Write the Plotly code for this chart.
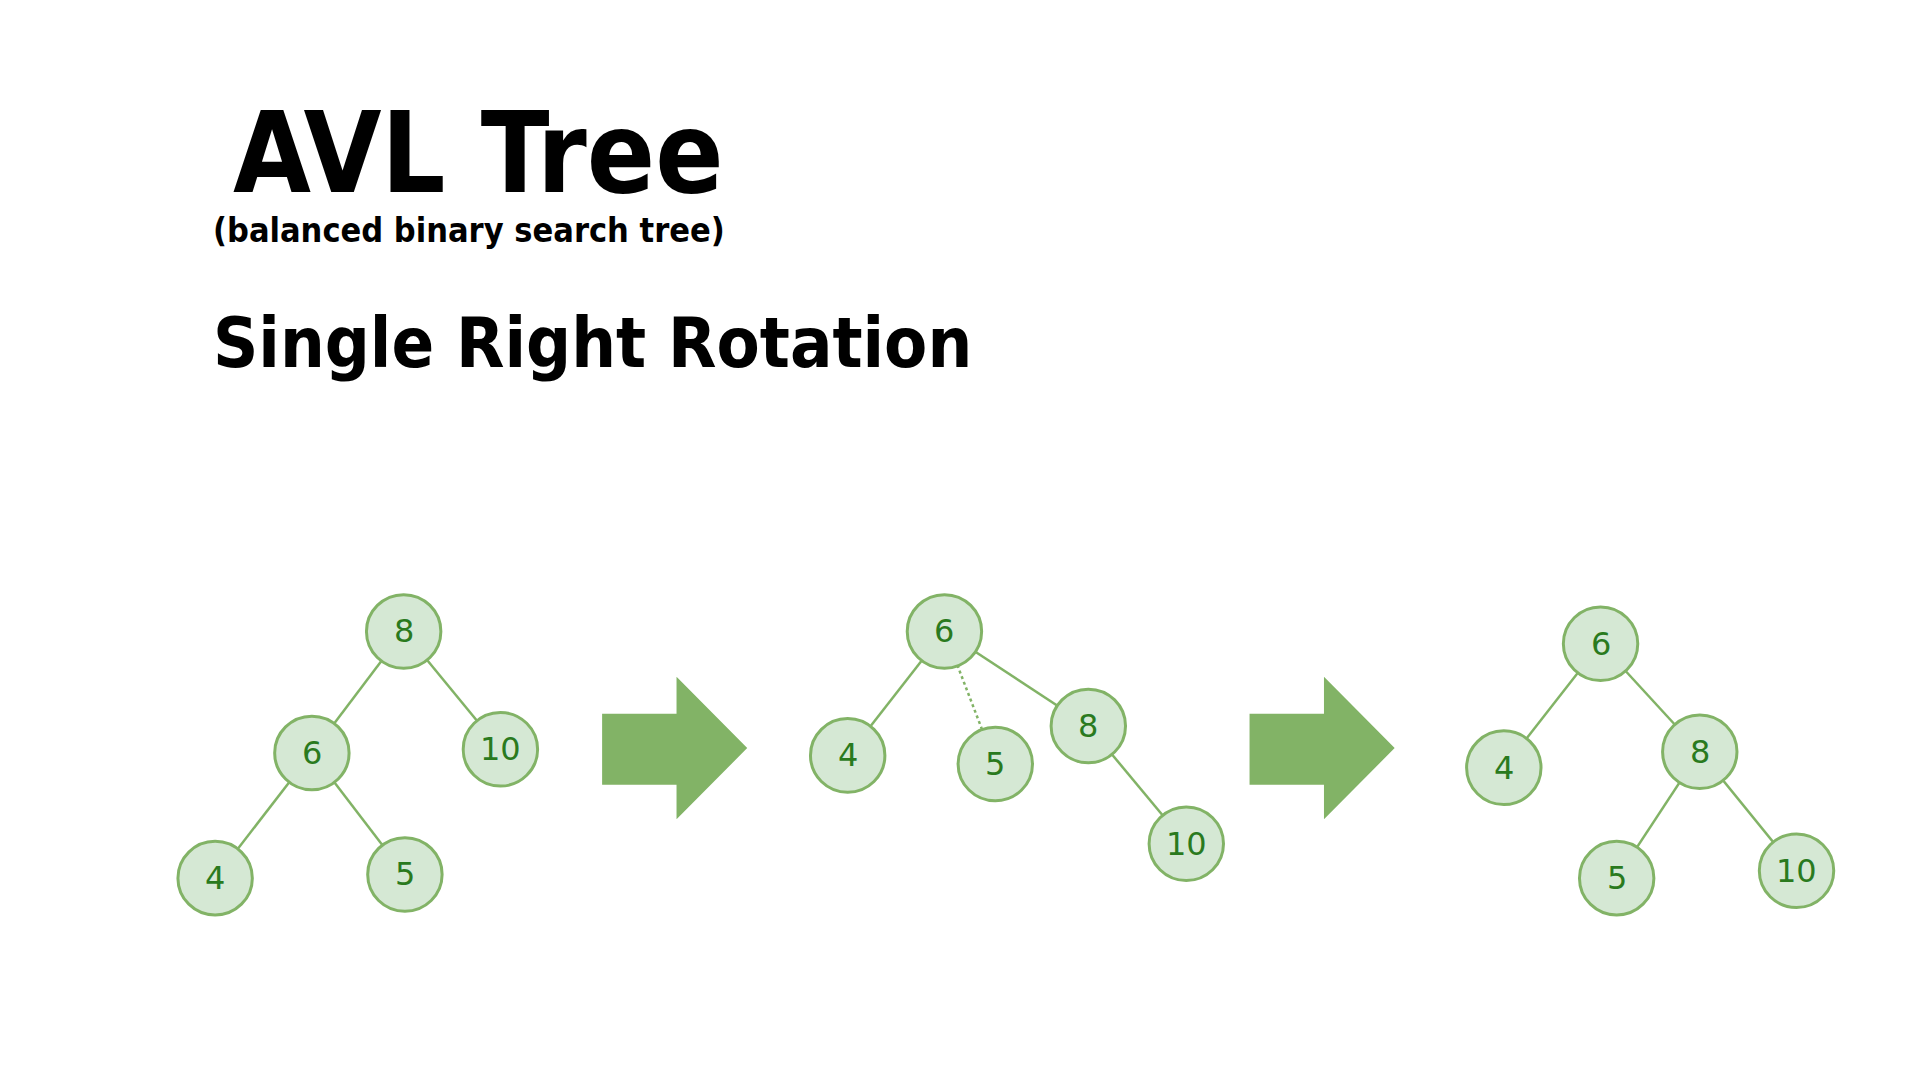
import plotly.graph_objects as go

# node labels and positions (picture coords, y down)
labels = ["8", "6", "10", "4", "5",
          "6", "4", "5", "8", "10",
          "6", "4", "8", "5", "10"]
node_x = [325, 251, 403, 173, 326,
          761, 683, 802, 877, 956,
          1290, 1212, 1370, 1303, 1448]
node_y = [515, 614, 611, 716, 713,
          515, 616, 623, 592, 688,
          525, 626, 613, 716, 710]
# edges as index pairs, solid and dotted
edges = [(0, 1), (0, 2), (1, 3), (1, 4),
         (5, 6), (5, 8), (8, 9),
         (10, 11), (10, 12), (12, 13), (12, 14)]
dotted_edges = [(5, 7)]
arrow_x0 = [485, 1007]
R = 30
EDGE = "#82b366"
FILL = "#d5e8d4"
TXT = "#2a7a1e"

fig = go.Figure()

def edge_trace(pairs, dash):
    xs, ys = [], []
    for a, b in pairs:
        xs += [node_x[a], node_x[b], None]
        ys += [node_y[a], node_y[b], None]
    return go.Scatter(x=xs, y=ys, mode="lines", line=dict(color=EDGE, width=2.5, dash=dash),
                      hoverinfo="skip", showlegend=False)

fig.add_trace(edge_trace(edges, "solid"))
fig.add_trace(edge_trace(dotted_edges, "dot"))

shapes = []
for x, y in zip(node_x, node_y):
    shapes.append(dict(type="circle", xref="x", yref="y", x0=x - R, x1=x + R, y0=y - R, y1=y + R,
                       fillcolor=FILL, line=dict(color=EDGE, width=3), layer="above"))
for ax in arrow_x0:
    path = (f"M {ax},582 L {ax+60},582 L {ax+60},552 L {ax+117},610 "
            f"L {ax+60},668 L {ax+60},640 L {ax},640 Z")
    shapes.append(dict(type="path", xref="x", yref="y", path=path,
                       fillcolor=EDGE, line=dict(width=0)))

annotations = [
    dict(x=x, y=y, xref="x", yref="y", text=t, showarrow=False,
         font=dict(size=32, color=TXT, family="DejaVu Sans"))
    for x, y, t in zip(node_x, node_y, labels)
]
annotations += [
    dict(x=186, y=125, xref="x", yref="y", text="<b>AVL Tree</b>", showarrow=False,
         xanchor="left", yanchor="middle", font=dict(size=112, color="black", family="DejaVu Sans Condensed")),
    dict(x=170, y=188, xref="x", yref="y", text="<b>(balanced binary search tree)</b>", showarrow=False,
         xanchor="left", yanchor="middle", font=dict(size=34, color="black", family="DejaVu Sans Condensed")),
    dict(x=170, y=280, xref="x", yref="y", text="<b>Single Right Rotation</b>", showarrow=False,
         xanchor="left", yanchor="middle", font=dict(size=70, color="black", family="DejaVu Sans Condensed")),
]

fig.update_layout(
    width=1920, height=1080, margin=dict(l=0, r=0, t=0, b=0),
    plot_bgcolor="white", paper_bgcolor="white", shapes=shapes, annotations=annotations,
    xaxis=dict(range=[6, 1554], visible=False),
    yaxis=dict(range=[887, 7], visible=False),
)
fig.write_html("out.html")
